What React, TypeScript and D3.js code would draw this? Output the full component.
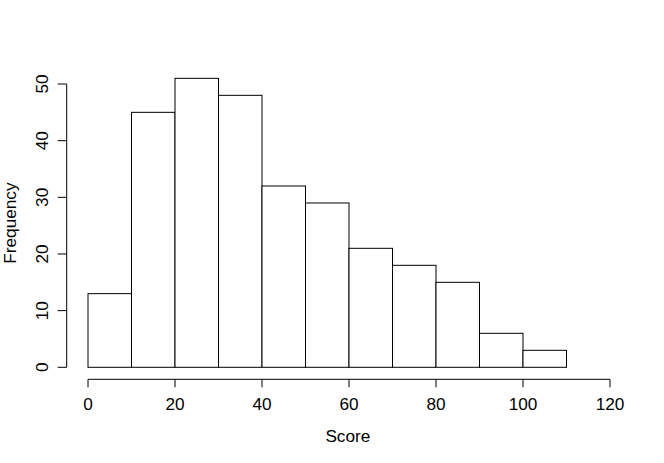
import React from "react";
import * as d3 from "d3";

const binStarts = [0, 10, 20, 30, 40, 50, 60, 70, 80, 90, 100];
const binWidth = 10;
const counts = [13, 45, 51, 48, 32, 29, 21, 18, 15, 6, 3];
const xTicks = [0, 20, 40, 60, 80, 100, 120];
const yTicks = [0, 10, 20, 30, 40, 50];
const xLabel = "Score";
const yLabel = "Frequency";

const W = 664;
const H = 463;
const plotLeft = 66.7;
const plotRight = 629;
const plotTop = 66.8;
const plotBottom = 379.3;

export default function App() {
  const x = d3.scaleLinear().domain([0, 120]).range([88, 610]);
  const y = d3.scaleLinear().domain([0, 50]).range([367.3, 84]);
  const font = "'Liberation Sans', Arial, Helvetica, sans-serif";
  const fs = 17.2;
  return (
    <svg
      width={W}
      height={H}
      style={{ position: "absolute", left: 0, top: 0, background: "white" }}
      fontFamily={font}
    >
      <rect x={0} y={0} width={W} height={H} fill="white" />
      {binStarts.map((b, i) => (
        <rect
          key={i}
          x={x(b)}
          y={y(counts[i])}
          width={x(b + binWidth) - x(b)}
          height={y(0) - y(counts[i])}
          fill="white"
          stroke="black"
          strokeWidth={1}
        />
      ))}
      {/* x axis */}
      <line x1={x(0)} x2={x(120)} y1={plotBottom} y2={plotBottom} stroke="black" />
      {xTicks.map((t) => (
        <g key={t}>
          <line x1={x(t)} x2={x(t)} y1={plotBottom} y2={plotBottom + 8} stroke="black" />
          <text x={x(t)} y={410} textAnchor="middle" fontSize={fs} fill="black">
            {t}
          </text>
        </g>
      ))}
      {/* y axis */}
      <line x1={plotLeft} x2={plotLeft} y1={y(0)} y2={y(50)} stroke="black" />
      {yTicks.map((t) => (
        <g key={t}>
          <line x1={plotLeft - 9} x2={plotLeft} y1={y(t)} y2={y(t)} stroke="black" />
          <text
            transform={`translate(48.3,${y(t)}) rotate(-90)`}
            textAnchor="middle"
            fontSize={fs}
            fill="black"
          >
            {t}
          </text>
        </g>
      ))}
      <text x={(plotLeft + plotRight) / 2} y={441.7} textAnchor="middle" fontSize={fs} fill="black">
        {xLabel}
      </text>
      <text
        transform={`translate(15.6,${(plotTop + plotBottom) / 2}) rotate(-90)`}
        textAnchor="middle"
        fontSize={fs}
        fill="black"
      >
        {yLabel}
      </text>
    </svg>
  );
}
